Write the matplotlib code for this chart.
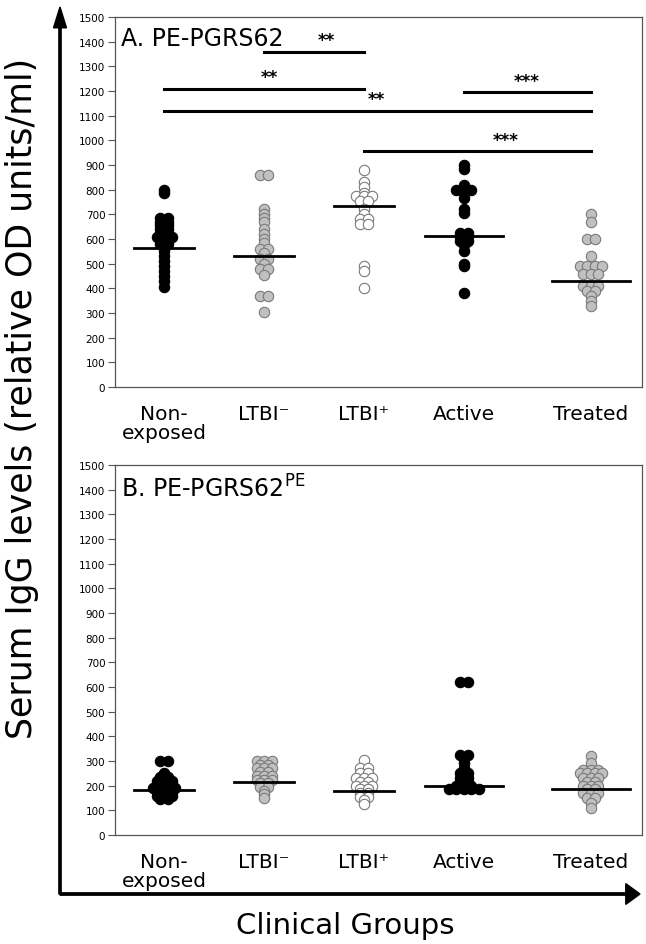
import numpy as np
import matplotlib
matplotlib.use("Agg")
import matplotlib.pyplot as plt
from matplotlib.patches import FancyArrow

groups = ["Non-\nexposed", "LTBI\u207b", "LTBI\u207a", "Active", "Treated"]
group_x = [1, 2, 3, 4, 5.27]

# panel A: PE-PGRS62 (equal values sit side by side in a row)
a_nonexp = [800, 785, 685, 685, 670, 670, 655, 655, 640, 640, 625, 625, 610, 610,
            610, 595, 595, 580, 580, 565, 550, 530, 510, 490, 470, 450, 430, 405]
a_ltbi_neg = [860, 860, 720, 700, 685, 670, 640, 620, 600, 585, 560, 560, 545, 520,
              520, 500, 480, 480, 455, 370, 370, 305]
a_ltbi_pos = [880, 830, 810, 785, 775, 775, 775, 755, 755, 720, 700, 680, 680, 660,
              660, 490, 470, 400]
a_active = [900, 885, 820, 800, 800, 800, 785, 765, 720, 705, 625, 625, 610, 610,
            590, 590, 575, 550, 500, 490, 380]
a_treated = [700, 670, 600, 600, 530, 490, 490, 490, 490, 460, 460, 460, 410, 410,
             410, 390, 390, 370, 350, 330]
a_medians = [565, 530, 735, 612, 430]

# significance bars: (from group, to group, level, stars)
a_sig = [(1, 2, 1360, "**"), (0, 2, 1210, "**"), (3, 4, 1195, "***"),
         (0, 4, 1120, "**"), (2, 4, 955, "***")]
a_star_x = [2.62, 2.05, 4.63, 3.12, 4.42]

# panel B: PE-PGRS62 PE domain
b_nonexp = [300, 300, 250, 235, 235, 220, 220, 220, 205, 205, 205, 190, 190, 190,
            190, 175, 175, 175, 160, 160, 160, 145, 145]
b_ltbi_neg = [300, 300, 300, 285, 285, 270, 270, 270, 255, 255, 240, 240, 240, 225,
              225, 225, 210, 210, 195, 195, 180, 165, 150]
b_ltbi_pos = [305, 270, 270, 250, 250, 230, 230, 230, 215, 215, 200, 200, 200, 185,
              185, 170, 170, 155, 155, 140, 125]
b_active = [620, 620, 325, 325, 310, 290, 270, 250, 250, 230, 230, 215, 215, 200,
            200, 200, 185, 185, 185, 185, 185]
b_treated = [320, 290, 265, 265, 265, 250, 250, 250, 250, 230, 230, 230, 215, 215,
             200, 200, 200, 185, 185, 170, 170, 170, 150, 150, 130, 110]
b_medians = [182, 215, 180, 200, 185]

face = ["black", "#c0c0c0", "white", "black", "#c0c0c0"]
edge = ["black", "#7a7a7a", "#7a7a7a", "black", "#7a7a7a"]
med_half = [0.3, 0.3, 0.3, 0.39, 0.39]

W, H = 646, 945
fig = plt.figure(figsize=(W / 100, H / 100), dpi=100)

XLIM = (0.51, 5.78)
YLIM = (0, 1500)


def row_offsets(vals, px_x, gap=7.5):
    # equal values are laid out side by side, centred on the group
    vals = list(vals)
    offs = np.zeros(len(vals))
    for v in set(vals):
        idx = [i for i, u in enumerate(vals) if u == v]
        n = len(idx)
        for k, i in enumerate(idx):
            offs[i] = (k - (n - 1) / 2) * gap
    return offs / px_x


def panel(rect, series, medians, title, sig=None, star_x=None):
    ax = fig.add_axes(rect)
    ax.set_xlim(*XLIM)
    ax.set_ylim(*YLIM)
    px_x = rect[2] * W / (XLIM[1] - XLIM[0])
    for i, vals in enumerate(series):
        offs = row_offsets(vals, px_x)
        ax.scatter(group_x[i] + offs, vals, s=56, facecolor=face[i],
                   edgecolor=edge[i], linewidth=0.8, zorder=3, clip_on=False)
        ax.plot([group_x[i] - med_half[i], group_x[i] + med_half[i]],
                [medians[i], medians[i]], color="black", lw=2, zorder=4)
    if sig:
        for (g0, g1, lev, st), sx in zip(sig, star_x):
            ax.plot([group_x[g0], group_x[g1]], [lev, lev], color="black", lw=2.2)
            ax.text(sx, lev + 10, st, ha="center", va="bottom", fontsize=12,
                    fontweight="bold")
    ax.set_yticks(np.arange(0, 1501, 100))
    ax.set_xticks(group_x)
    ax.set_xticklabels(groups, fontsize=14.5, linespacing=1.0)
    ax.tick_params(axis="x", length=0, pad=12)
    ax.tick_params(axis="y", length=5, width=0.8, labelsize=7.5, pad=2,
                   color="#555555")
    for sp in ax.spines.values():
        sp.set_color("#555555")
        sp.set_linewidth(0.9)
    ax.text(0.012, 0.975, title, transform=ax.transAxes, fontsize=17,
            ha="left", va="top")
    return ax


left = 115 / W
width = (642 - 115) / W
panel([left, 1 - 388 / H, width, 370 / H],
      [a_nonexp, a_ltbi_neg, a_ltbi_pos, a_active, a_treated],
      a_medians, "A. PE-PGRS62", a_sig, a_star_x)
panel([left, 1 - 836 / H, width, 370 / H],
      [b_nonexp, b_ltbi_neg, b_ltbi_pos, b_active, b_treated],
      b_medians, "B. PE-PGRS62$^{\\mathrm{PE}}$")

# big axis arrows
ax0 = 60 / W
ay0 = 1 - 895 / H
fig.add_artist(FancyArrow(ax0, ay0, 0, (895 - 8) / H - 0.022, width=0.0035,
                          head_width=0.02, head_length=0.022, color="black",
                          transform=fig.transFigure))
fig.add_artist(FancyArrow(ax0, ay0, (640 - 60) / W - 0.022, 0, width=0.0025,
                          head_width=0.022, head_length=0.022, color="black",
                          transform=fig.transFigure))

fig.text(22 / W, 1 - 398 / H, "Serum IgG levels (relative OD units/ml)",
         rotation=90, ha="center", va="center", fontsize=25)
fig.text(345 / W, 1 - 926 / H, "Clinical Groups", ha="center", va="center",
         fontsize=21)

fig.savefig("out.png", dpi=100)
